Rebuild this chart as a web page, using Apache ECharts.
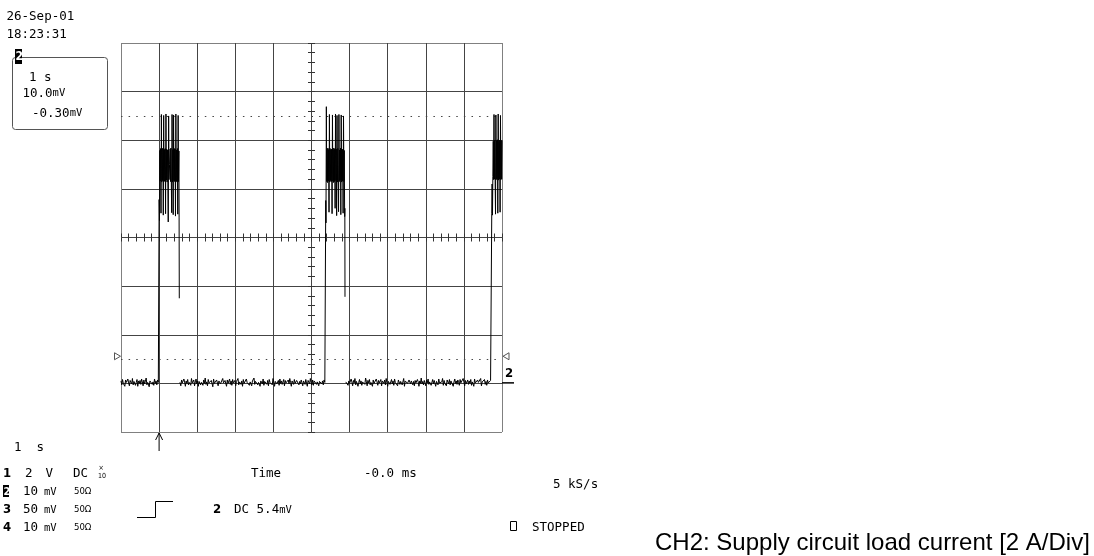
<!DOCTYPE html>
<html><head><meta charset="utf-8">
<script src="https://cdn.jsdelivr.net/npm/echarts@6/dist/echarts.min.js"></script>
<style>html,body{margin:0;padding:0;background:#fff;}#c{width:1094px;height:556px;}</style>
</head><body><div id="c"></div>
<script>
// ---- scope settings ----
const timeRange = [0, 10];      // s  (1 s/div)
const voltRange = [-10, 70];    // mV (10 mV/div)
const cursorLevels = [55, 5];   // mV, dotted cursor lines
const triggerTime = 1.0;        // s
const groundLevel = 0;          // mV
const baseDt = 0.02;            // s between displayed baseline samples

// ---- CH2 trace: baseline noise segments (mV) ----
const baseAStart = 0;
const baseA = [0.5,-0.3,0.8,0.0,0.4,-0.6,0.7,0.2,-0.2,0.9,
0.1,-0.5,0.6,0.3,-0.1,1.0,-0.3,0.4,0.7,-0.4,
0.2,0.8,-0.6,0.5,0.0,0.6,-0.2,0.9,0.3,-0.5,
0.7,-0.1,0.4,1.1,-0.3,0.2,0.6,-0.7,0.5,0.1,
0.8,-0.2,0.3,-0.4,0.9,0.0,0.5,-0.3,0.7,0.2];
const baseBStart = 1.55;
const baseB = [0.4,-0.5,0.7,0.1,-0.2,0.9,0.3,-0.6,0.5,0.0,
0.8,-0.3,0.2,0.6,-0.4,1.0,0.1,-0.2,0.7,-0.5,
0.3,0.9,-0.1,0.5,-0.6,0.4,0.8,-0.3,0.2,0.6,
-0.4,0.7,0.0,1.1,-0.2,0.3,-0.5,0.8,0.1,0.5,
-0.3,0.6,0.2,-0.7,0.9,0.0,0.4,-0.2,0.7,0.3,
-0.5,0.5,0.8,-0.1,0.2,-0.4,1.0,0.1,-0.3,0.6,
0.4,-0.6,0.7,0.0,0.3,0.9,-0.2,0.5,-0.4,0.8,
0.1,-0.1,0.6,-0.5,0.4,0.2,1.0,-0.3,0.3,0.7,
-0.2,0.5,-0.6,0.8,0.0,0.4,-0.3,0.9,0.2,-0.1,
0.6,-0.4,0.3,0.7,-0.5,0.5,0.1,1.1,-0.2,0.4,
0.0,0.8,-0.3,0.2,0.6,-0.6,0.5,0.3,-0.1,0.9,
-0.4,0.4,0.7,0.1,-0.2,0.6,-0.5,0.8,0.2,0.0,
0.5,-0.3,1.0,0.3,-0.6,0.4,0.7,-0.1,0.2,0.6,
-0.4,0.9,0.0,0.5,-0.2,0.3,0.8,-0.5,0.6,0.1,
0.4,-0.3,0.7,-0.1,1.0,0.2,-0.6,0.5,0.3,-0.2,
0.8,0.0,-0.4,0.6,0.2,0.9,-0.3,0.4,-0.1,0.7,
0.1,-0.5,0.5,0.3,-0.2,0.8,0.0,-0.6,0.6,0.4,
-0.1,1.0,0.2,-0.3,0.7,-0.4,0.5,0.1,0.9,-0.2,
0.3,0.6,-0.5,0.4,0.0,0.8,-0.1,0.5,-0.3,0.7,
0.2];
const baseCStart = 5.92;
const baseC = [0.2,0.7,-0.4,0.5,0.0,-0.2,0.9,0.3,-0.5,0.6,
0.1,1.0,-0.3,0.4,0.6,-0.6,0.2,0.8,-0.1,0.5,
-0.4,0.3,0.7,0.0,-0.2,1.1,0.4,-0.5,0.6,0.1,
0.8,-0.3,0.2,0.5,-0.6,0.7,0.0,0.4,-0.1,0.9,
0.3,-0.4,0.6,0.1,-0.2,0.8,-0.5,0.5,0.2,0.0,
0.7,-0.3,1.0,0.1,-0.6,0.4,0.6,-0.2,0.3,0.8,
-0.1,0.5,-0.4,0.9,0.2,0.0,0.6,-0.5,0.7,0.3,
-0.2,0.4,0.8,-0.3,0.1,1.0,-0.6,0.5,0.2,0.6,
0.0,-0.4,0.7,0.3,-0.1,0.5,0.9,-0.3,0.4,-0.5,
0.6,0.1,-0.2,0.8,0.3,-0.6,0.5,0.0,1.1,-0.1,
0.4,-0.3,0.6,0.2,-0.5,0.7,0.1,0.9,-0.2,0.3,
0.5,-0.4,0.0,0.8,-0.1,0.6,0.2,-0.6,0.4,0.7,
-0.3,0.9,0.1,0.5,-0.2,0.3,1.0,-0.4,0.6,0.0,
0.2,-0.5,0.7,0.4,-0.1,0.8,-0.3,0.5,0.1,0.6,
-0.6,0.3,0.9,0.0,0.5,-0.2,0.7,0.2,-0.4,0.8,
0.1,0.4,-0.3,1.0,0.3,-0.5,0.6,-0.1,0.2,0.7,
-0.2,0.5,0.0,0.8,-0.4,0.3,0.6,-0.6,0.9,0.1,
0.4,-0.3,0.7,0.2,-0.1,0.5,1.0,-0.5,0.3,0.6,
0.0,0.8,-0.2,0.4,-0.4,0.7,0.1,0.5,-0.3,0.6,
0.3];

// ---- CH2 trace: load bursts [t (s), mV]; '-' = not drawn ----
const pulse1 = [[0.99,0.2],[1.000,0.3],[1.001,37.8],[1.01,33.5],[1.02,47.9],[1.03,41.6],[1.04,48.3],[1.05,35.0],[1.06,55.3],[1.07,41.4],
[1.08,48.2],[1.09,41.7],[1.10,48.4],[1.11,34.6],[1.12,55.1],[1.13,41.5],[1.14,48.1],[1.15,41.6],[1.16,48.3],[1.17,34.9],
[1.18,55.4],[1.19,41.8],[1.20,48.2],[1.21,41.4],[1.22,48.0],[1.23,41.6],[1.24,33.2],[1.25,55.0],[1.26,41.9],[1.275,45.0],
[1.29,48.2],[1.30,41.5],[1.31,48.4],[1.32,41.6],[1.33,35.1],[1.34,55.3],[1.35,41.4],[1.36,48.1],[1.37,34.7],[1.38,55.2],
[1.39,41.7],[1.40,48.3],[1.41,41.5],[1.42,48.2],[1.43,34.4],[1.44,55.4],[1.45,41.6],[1.46,48.0],[1.47,41.4],[1.48,48.3],
[1.49,34.8],[1.50,55.1],[1.51,41.5],[1.52,47.8],[1.525,34.2],[1.53,17.5],[1.535,'-'],[1.545,0.2]];
const pulse2 = [[5.362,0.3],[5.372,0.4],[5.374,37.6],[5.38,33.0],[5.39,56.9],[5.40,41.5],[5.41,48.2],[5.42,41.3],[5.43,48.4],[5.44,41.6],
[5.45,48.1],[5.46,35.2],[5.47,55.3],[5.48,41.4],[5.49,48.3],[5.50,41.7],[5.51,48.0],[5.52,41.5],[5.53,48.2],[5.54,34.9],
[5.55,55.2],[5.56,41.6],[5.57,48.4],[5.58,41.3],[5.59,48.1],[5.60,41.5],[5.61,48.3],[5.62,36.0],[5.63,55.4],[5.64,41.7],
[5.65,48.2],[5.66,34.5],[5.67,55.1],[5.68,41.4],[5.69,48.3],[5.70,41.6],[5.71,35.3],[5.72,55.3],[5.73,41.5],[5.74,48.0],
[5.75,41.8],[5.76,48.4],[5.77,34.7],[5.78,55.2],[5.79,41.4],[5.80,48.2],[5.81,41.6],[5.82,48.1],[5.83,35.0],[5.84,55.0],
[5.85,41.5],[5.86,47.9],[5.87,34.3],[5.875,36.0],[5.879,17.8],[5.885,'-'],[5.90,0.3]];
const pulse3 = [[9.725,0.3],[9.730,0.2],[9.731,35.0],[9.74,41.0],[9.75,34.6],[9.76,42.5],[9.77,49.8],[9.78,41.9],[9.79,55.3],[9.80,42.0],
[9.81,50.0],[9.82,41.8],[9.83,34.8],[9.84,55.2],[9.85,41.9],[9.86,49.9],[9.87,42.1],[9.88,50.1],[9.89,35.0],[9.90,55.4],
[9.91,41.8],[9.92,49.8],[9.93,42.0],[9.94,50.0],[9.95,35.2],[9.96,55.1],[9.97,41.9],[9.98,49.9],[9.99,42.0],[10.0,50.0]];

function baseSeg(start, vals){ return vals.map((v,i)=>[+(start+i*baseDt).toFixed(3), v]); }
const trace = [].concat(baseSeg(baseAStart, baseA), pulse1, baseSeg(baseBStart, baseB), pulse2, baseSeg(baseCStart, baseC), pulse3);

const MONO = '"DejaVu Sans Mono", monospace';
const NARROW = '"Liberation Sans Narrow", "DejaVu Sans Condensed", "Liberation Sans", sans-serif';
const GRID_IN = '#444', GRID_OUT = '#808080', TICK = '#333';

function lineColors(n){ const a=[]; for(let i=0;i<n;i++) a.push(i===0||i===n-1?GRID_OUT:GRID_IN); return a; }

const tickAxisCommon = {
  type:'value', axisLabel:{show:false}, splitLine:{show:false},
  axisTick:{show:true, lineStyle:{color:TICK, width:1}},
  minorTick:{show:true, splitNumber:5, lineStyle:{color:TICK, width:1}}
};

const chart = echarts.init(document.getElementById('c'));
chart.setOption({
  animation:false,
  backgroundColor:'#fff',
  grid:{left:121, top:43, width:381, height:389, show:false, outerBoundsMode:'none', containLabel:false},
  xAxis:[
    Object.assign({}, tickAxisCommon, {min:timeRange[0], max:timeRange[1], interval:1, position:'bottom',
      axisLine:{show:false, onZero:true, onZeroAxisIndex:2},
      axisTick:{show:true, length:4, lineStyle:{color:TICK}}, minorTick:{show:true, splitNumber:5, length:4, lineStyle:{color:TICK}},
      splitLine:{show:true, lineStyle:{color:lineColors(11), width:1}}}),
    Object.assign({}, tickAxisCommon, {min:timeRange[0], max:timeRange[1], interval:1, position:'top',
      axisLine:{show:false, onZero:true, onZeroAxisIndex:2},
      axisTick:{show:true, length:4, lineStyle:{color:TICK}}, minorTick:{show:true, splitNumber:5, length:4, lineStyle:{color:TICK}}}),
    {type:'value', min:-5, max:5, show:false}
  ],
  yAxis:[
    Object.assign({}, tickAxisCommon, {min:voltRange[0], max:voltRange[1], interval:10, position:'left',
      axisLine:{show:false, onZero:true, onZeroAxisIndex:2},
      axisTick:{show:true, length:3.5, lineStyle:{color:TICK}}, minorTick:{show:true, splitNumber:5, length:3.5, lineStyle:{color:TICK}},
      splitLine:{show:true, lineStyle:{color:lineColors(9), width:1}}}),
    Object.assign({}, tickAxisCommon, {min:voltRange[0], max:voltRange[1], interval:10, position:'right',
      axisLine:{show:false, onZero:true, onZeroAxisIndex:2},
      axisTick:{show:true, length:3.5, lineStyle:{color:TICK}}, minorTick:{show:true, splitNumber:5, length:3.5, lineStyle:{color:TICK}}}),
    {type:'value', min:-4, max:4, show:false}
  ],
  series:[{
    type:'line', xAxisIndex:0, yAxisIndex:0, data:trace, symbol:'none', showSymbol:false,
    connectNulls:false, clip:false, silent:true, z:5,
    lineStyle:{color:'#000', width:1},
    markLine:{silent:true, symbol:['none','none'], label:{show:false}, animation:false,
      lineStyle:{color:'#444', width:1, type:[1.5, 6.12]},
      data: cursorLevels.map(v=>({yAxis:v}))}
  }]
});

// ---- annotations placed through the chart's own coordinate conversion ----
const P = v => chart.convertToPixel({xAxisIndex:0, yAxisIndex:0}, v);
const trig = P([triggerTime, voltRange[0]]);
const gnd = P([timeRange[1], groundLevel]);
const cL = P([timeRange[0], cursorLevels[1]]);
const cR = P([timeRange[1], cursorLevels[1]]);

const G = [];
function txt(t, x, y, font, fill, extra){
  G.push(Object.assign({type:'text', x:x, y:y+1, silent:true, style:Object.assign({text:t, font:font||('12.5px '+MONO), fill:fill||'#000', align:'left', verticalAlign:'middle'}, extra||{})}));
}
const F = '12.5px ' + MONO;
const FU = '10.5px ' + MONO;
const FB = 'bold 13px ' + NARROW;
const FS = '9.5px ' + NARROW;
const unitRich = {a:{font:F, fill:'#000'}, b:{font:FU, fill:'#000'}};

// date / time
txt('26-Sep-01', 6.5, 15.5, F);
txt('18:23:31', 6.5, 33.8, F);
// channel box
G.push({type:'rect', silent:true, shape:{x:12.5, y:57.5, width:95, height:72, r:3}, style:{fill:'none', stroke:'#555', lineWidth:1}});
G.push({type:'rect', silent:true, shape:{x:15, y:49, width:7, height:15}, style:{fill:'#000'}});
txt('2', 15.5, 56, 'bold 12px ' + NARROW, '#fff');
txt('1 s', 29, 76.7, F);
txt('{a|10.0}{b|mV}', 22.5, 92.7, F, '#000', {rich:unitRich});
txt('{a|-0.30}{b|mV}', 32, 112.3, F, '#000', {rich:unitRich});

// bottom-left channel list
const rows = [472.5, 491, 509, 527];
txt('1  s', 14, 447, F);
txt('1', 3, rows[0], FB);
txt('2', 25, rows[0], F); txt('V', 45.5, rows[0], F); txt('DC', 73, rows[0], F);
txt('×', 98.5, rows[0]-5, '7px ' + NARROW); txt('10', 98, rows[0]+2.5, '7px ' + NARROW);
G.push({type:'rect', silent:true, shape:{x:3, y:rows[1]-6, width:6, height:12}, style:{fill:'#000'}});
txt('2', 3.5, rows[1], 'bold 11px ' + NARROW, '#fff');
txt('10', 23, rows[1], F); txt('{b|mV}', 44, rows[1], F, '#000', {rich:unitRich}); txt('50Ω', 74, rows[1], FS);
txt('3', 3, rows[2], FB);
txt('50', 23, rows[2], F); txt('{b|mV}', 44, rows[2], F, '#000', {rich:unitRich}); txt('50Ω', 74, rows[2], FS);
txt('4', 3, rows[3], FB);
txt('10', 23, rows[3], F); txt('{b|mV}', 44, rows[3], F, '#000', {rich:unitRich}); txt('50Ω', 74, rows[3], FS);

// timebase / trigger info
txt('Time', 251, rows[0], F);
txt('-0.0 ms', 364, rows[0], F);
txt('5 kS/s', 553, 484, F);
G.push({type:'polyline', silent:true, shape:{points:[[137,517.5],[155.5,517.5],[155.5,501.5],[173,501.5]]}, style:{stroke:'#000', lineWidth:1, fill:'none'}});
txt('2', 213, rows[2], FB);
txt('{a|DC 5.4}{b|mV}', 234, rows[2], F, '#000', {rich:unitRich});
G.push({type:'rect', silent:true, shape:{x:510.5, y:521.5, width:6, height:9}, style:{fill:'none', stroke:'#000', lineWidth:1}});
txt('STOPPED', 532, 526.5, F);

// trigger arrow under the grid
G.push({type:'polyline', silent:true, shape:{points:[[trig[0], trig[1]+1],[trig[0], trig[1]+19]]}, style:{stroke:'#000', lineWidth:1, fill:'none'}});
G.push({type:'polyline', silent:true, shape:{points:[[trig[0]-3.5, trig[1]+8],[trig[0], trig[1]+1],[trig[0]+3.5, trig[1]+8]]}, style:{stroke:'#000', lineWidth:1, fill:'none'}});
// cursor triangles
G.push({type:'polygon', silent:true, shape:{points:[[cL[0]-6.5, cL[1]-6.3],[cL[0]-0.5, cL[1]-2.8],[cL[0]-6.5, cL[1]+0.7]]}, style:{fill:'#fff', stroke:'#555', lineWidth:1}});
G.push({type:'polygon', silent:true, shape:{points:[[cR[0]+7, cR[1]-6.3],[cR[0]+1, cR[1]-2.8],[cR[0]+7, cR[1]+0.7]]}, style:{fill:'#fff', stroke:'#555', lineWidth:1}});
// ground marker of channel 2
G.push({type:'line', silent:true, shape:{x1:gnd[0], y1:gnd[1]-0.5, x2:gnd[0]+12, y2:gnd[1]-0.5}, style:{stroke:'#000', lineWidth:1.5}});
txt('2', gnd[0]+3, gnd[1]-11, FB);

// caption
G.push({type:'text', x:655, y:543.5, silent:true, style:{text:'CH2: Supply circuit load current [2 A/Div]', font:'24px "Liberation Sans", Arial, sans-serif', fill:'#000', align:'left', verticalAlign:'middle'}});

chart.setOption({graphic:{elements:G}});
</script></body></html>
